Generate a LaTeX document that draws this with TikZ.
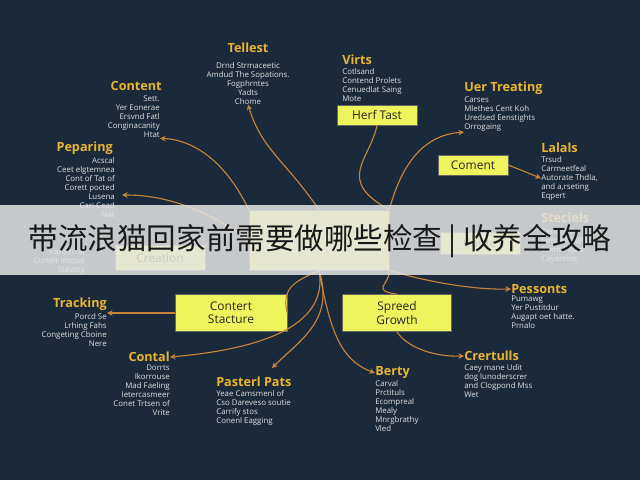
\documentclass[tikz,border=0pt]{standalone}
\usepackage{fontspec}
\setmainfont{Open Sans}
\newfontfamily\cjk{Noto Sans CJK SC}
\usetikzlibrary{positioning,arrows.meta}
\definecolor{navy}{HTML}{1B2A3B}
\definecolor{gold}{HTML}{E9B531}
\definecolor{lime}{HTML}{EEF55C}
\definecolor{wire}{HTML}{C8843A}
\tikzset{
  title/.style={text=gold, font=\bfseries\fontsize{9}{10}\selectfont, inner sep=0pt},
  body/.style={text=white!85!navy, font=\fontsize{5.6}{6.4}\selectfont, inner sep=0pt},
  box/.style={draw=black!60, fill=lime, text=black!85, font=\fontsize{8.5}{9.5}\selectfont,
              align=center, inner sep=0pt},
  link/.style={draw=wire, thick, -{Stealth[length=4pt,width=4pt]}},
  wire/.style={draw=wire, thick}
}
\begin{document}
\begin{tikzpicture}[x=0.025cm, y=-0.025cm]
  \fill[navy] (0,0) rectangle (640,480);
  \useasboundingbox (0,0) rectangle (640,480);
  % boxes
  \node [box, minimum width=140*0.025cm, minimum height=60*0.025cm] (hub) at (319,240) {};
  \node [box, minimum width=80*0.025cm, minimum height=20*0.025cm] (herf) at (377,115) {Herf Tast};
  \node [box, minimum width=70*0.025cm, minimum height=20*0.025cm] (coment) at (473,165) {Coment};
  \node [box, minimum width=90*0.025cm, minimum height=25*0.025cm] (creation) at (160,258) {Creation};
  \node [box, minimum width=80*0.025cm, minimum height=22*0.025cm] (conte) at (480,243) {Conte};
  \node [box, minimum width=112*0.025cm, minimum height=37*0.025cm] (struct) at (231,313) {Contert\\Stacture};
  \node [box, minimum width=109*0.025cm, minimum height=37*0.025cm] (spread) at (397,313) {Spreed\\Growth};
  % titles and texts
  \node [title] (tellest) at (248,48) {Tellest};
  \node [body, align=center, anchor=north] (tellestT) at (248,62) {Drnd Strmaceetic\\Amdud The Sopations.\\Fogphrntes\\Yadts\\Chome};
  \node [title, anchor=east] (content) at (162,86) {Content};
  \node [body, align=right, anchor=north east] (contentT) at (160,96) {Sett.\\Yer Eonerae\\Ersvnd Fatl\\Conginacanity\\Htat};
  \node [title, anchor=east] (peparing) at (113,148) {Peparing};
  \node [body, align=right, anchor=north east] (peparingT) at (115,157) {Acscal\\Ceet elgtemnea\\Cont of Tat of\\Corett pocted\\Lusena\\Cari Cead\\Nat};
  \node [title, anchor=west] (virts) at (342,60) {Virts};
  \node [body, align=left, anchor=north west] (virtsT) at (342,68) {Cotlsand\\Contend Prolets\\Cenuedlat Saing\\Mote};
  \node [title, anchor=west] (user) at (464,88) {Uer Treating};
  \node [body, align=left, anchor=north west] (userT) at (464,97) {Carses\\Mlethes Cent Koh\\Uredsed Eenstights\\Orrogaing};
  \node [title, anchor=west] (lalals) at (541,148) {Lalals};
  \node [body, align=left, anchor=north west] (lalalsT) at (541,156) {Trsud\\Carmeetfeal\\Autorate Thdla,\\and a,rseting\\Eqpert};
  \node [title, anchor=west] (steciels) at (541,218) {Steciels};
  \node [body, align=left, anchor=north west] (stecielsT) at (541,228) {Cendrsttle\\Fonrecl Palfs\\Comt Fspas\\Cayentins};
  \node [body, align=right, anchor=north east] (leftT) at (85,248) {Fonsecral\\Curtelt Imcoal\\Stavtity};
  \node [title, anchor=east] (tracking) at (107,304) {Tracking};
  \node [body, align=right, anchor=north east] (trackingT) at (107,313) {Porcd Se\\Lrhing Fahs\\Congeting Cboine\\Nere};
  \node [title, anchor=east] (contal) at (170,357) {Contal};
  \node [body, align=right, anchor=north east] (contalT) at (170,365) {Dorrts\\Ikorrouse\\Mad Faeling\\Ietercasmeer\\Conet Trtsen of\\Vrite};
  \node [title, anchor=west] (pasterl) at (216,382) {Pasterl Pats};
  \node [body, align=left, anchor=north west] (pasterlT) at (216,390) {Yeae Camsmenl of\\Cso Dareveso soutie\\Carrify stos\\Conenl Eagging};
  \node [title, anchor=west] (pessonts) at (511,289) {Pessonts};
  \node [body, align=left, anchor=north west] (pessontsT) at (511,296) {Pumawg\\Yer Pustitdur\\Augapt oet hatte.\\Prnalo};
  \node [title, anchor=west] (crertulls) at (464,356) {Crertulls};
  \node [body, align=left, anchor=north west] (crertullsT) at (464,364) {Caey mane Udit\\dog lunoderscrer\\and Clogpond Mss\\Wet};
  \node [title, anchor=west] (berty) at (375,373) {Berty};
  \node [body, align=left, anchor=north west] (bertyT) at (375,380) {Carval\\Prctituls\\Ecompreal\\Mealy\\Mnrgbrathy\\Vled};
  % connectors
  \path [link] (hub.north) .. controls (285,160) and (262,150) .. (tellestT.south);
  \path [link] (hub.north west) .. controls (230,170) and (200,140) .. (contentT.south east);
  \path [link] (hub.west) .. controls (200,205) and (160,195) .. (122,195);
  \path [wire] (herf.south) .. controls (370,160) and (335,180) .. (hub.north east);
  \path [link] (hub.north east) .. controls (400,170) and (420,135) .. (userT.south west);
  \path [link] (coment.east) -- (lalalsT.west);
  \path [wire] (struct.east) .. controls (280,285) and (300,280) .. (hub.south);
  \path [link] (struct.west) -- (trackingT.north east);
  \path [link] (hub.south) .. controls (330,330) and (250,350) .. (contal.east);
  \path [link] (hub.south) .. controls (335,320) and (300,340) .. (272,368);
  \path [link] (hub.south) .. controls (330,330) and (340,360) .. (berty.west);
  \path [wire] (hub.south east) .. controls (390,285) and (370,290) .. (spread.north);
  \path [link] (hub.south east) .. controls (420,280) and (470,290) .. (pessonts.west);
  \path [link] (spread.south) .. controls (405,345) and (430,357) .. (crertulls.west);
  % banner
  \fill [white!80!gray, opacity=0.85] (0,205) rectangle (640,275);
  \node [font=\cjk\fontsize{21}{24}\selectfont, text=black!90] (banner) at (320,241) {带流浪猫回家前需要做哪些检查 | 收养全攻略};
\end{tikzpicture}
\end{document}
